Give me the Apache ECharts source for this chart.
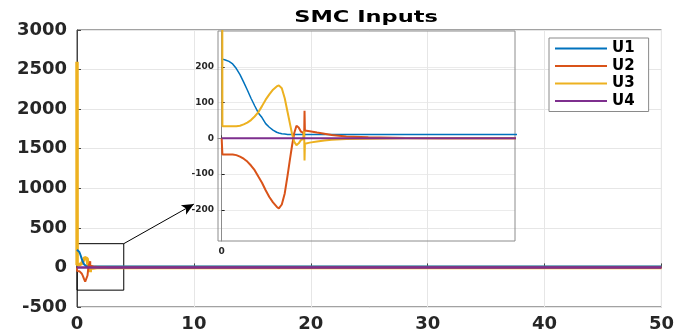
<!DOCTYPE html>
<html>
<head>
<meta charset="utf-8">
<script src="https://cdn.jsdelivr.net/npm/echarts@6/dist/echarts.min.js"></script>
<style>
  html, body { margin: 0; padding: 0; background: #fff; }
  #chart { width: 677px; height: 336px; }
</style>
</head>
<body>
<div id="chart"></div>
<script>
// time samples (s), last point is end of run
const tSamples = [0, 0.01, 0.05, 0.1, 0.15, 0.2, 0.25, 0.3, 0.35, 0.4,
  0.45, 0.5, 0.55, 0.6, 0.65, 0.7, 0.75, 0.78, 0.82, 0.86,
  0.9, 0.93, 0.96, 0.99, 1.02, 1.05, 1.08, 1.11, 1.125, 1.13,
  1.135, 1.16, 1.2, 1.3, 1.4, 1.5, 1.7, 2.0, 2.5, 3,
  4, 50];

const u1 = [222, 222, 219, 215, 208, 195, 178, 157, 135, 112,
  91, 71, 58, 41, 31, 23, 17, 15, 13, 12,
  11, 11, 11, 11, 11, 11, 11, 11, 11, 11,
  11, 11, 11, 11, 11, 11, 11, 11, 11, 11,
  11, 11];
const u2 = [0, -45, -45, -45, -45, -47, -51, -57, -65, -76,
  -89, -107, -124, -145, -164, -179, -191, -196, -185, -154,
  -102, -60, -20, 15, 35, 30, 19, 16, 5, 77,
  22, 21, 20, 16, 13, 9, 5, 3, 1, 0,
  0, 0];
const u3 = [2600, 34, 34, 34, 34, 34, 35, 39, 44, 51,
  61, 73, 90, 108, 123, 136, 145, 148, 140, 112,
  72, 42, 12, -10, -19, -14, -5, -2, 20, -62,
  -15, -14, -12, -9, -6, -4, -2, -1, 0, 0,
  0, 0];
const u4 = [0, 0, 0, 0, 0, 0, 0, 0, 0, 0,
  0, 0, 0, 0, 0, 0, 0, 0, 0, 0,
  0, 0, 0, 0, 0, 0, 0, 0, 0, 0,
  0, 0, 0, 0, 0, 0, 0, 0, 0, 0,
  0, 0];

const seriesNames = ['U1', 'U2', 'U3', 'U4'];
const seriesColors = ['#0072BD', '#D95319', '#EDB120', '#7E2F8E'];
const insetYLabels = [-200, -100, 0, 100, 200];
const insetXLabels = [0];

const chart = echarts.init(document.getElementById('chart'));

const pairs = (vals) => tSamples.map((t, i) => [t, vals[i]]);
const allValues = [u1, u2, u3, u4];

const labelFont = {
  fontFamily: 'DejaVu Sans',
  fontWeight: 'bold',
  color: '#262626',
};
const plain = (v) => String(v);

// main view: U3 at the back so its wide start spike doesn't tint the steady lines
const mainWidths = [2, 2, 3.5, 2.5];
const mainZ = [4, 5, 3, 6];
const mainSeries = allValues.map((vals, i) => ({
  name: seriesNames[i],
  type: 'line',
  xAxisIndex: 0,
  yAxisIndex: 0,
  data: pairs(vals),
  symbol: 'none',
  clip: false,
  color: seriesColors[i],
  lineStyle: { width: mainWidths[i], color: seriesColors[i] },
  z: mainZ[i],
}));

// zoom box and arrow pointing at the inset
mainSeries[3].markArea = {
  silent: true,
  itemStyle: { color: 'rgba(0,0,0,0)', borderColor: '#000', borderWidth: 1 },
  data: [[{ coord: [0, 300] }, { coord: [4, -287] }]],
};
mainSeries[3].markLine = {
  silent: true,
  symbol: ['none', 'arrow'],
  symbolSize: [8, 12],
  label: { show: false },
  lineStyle: { color: '#000', width: 1, type: 'solid' },
  data: [[{ coord: [4, 300] }, { coord: [10, 800] }]],
};

const insetSeries = allValues.map((vals, i) => ({
  name: seriesNames[i],
  type: 'line',
  xAxisIndex: 1,
  yAxisIndex: 1,
  data: pairs(vals),
  symbol: 'none',
  color: seriesColors[i],
  lineStyle: { width: i === 0 ? 1.5 : 2, color: seriesColors[i] },
  z: 10 + i,
}));

const option = {
  animation: false,
  backgroundColor: '#fff',
  graphic: [{
    type: 'text',
    x: 366,
    y: 11,
    scaleX: 1.5,
    z: 50,
    style: {
      text: 'SMC Inputs',
      fontFamily: 'DejaVu Sans',
      fontWeight: 'bold',
      fontSize: 15,
      fill: '#000',
      align: 'center',
      verticalAlign: 'top',
    },
  }],
  legend: {
    data: seriesNames,
    orient: 'vertical',
    left: 549,
    top: 38,
    icon: 'rect',
    itemWidth: 52,
    itemHeight: 2,
    itemGap: 2.5,
    padding: [3, 14, 3, 6],
    backgroundColor: '#fff',
    borderColor: '#8a8a8a',
    borderWidth: 1,
    textStyle: { ...labelFont, color: '#000', fontSize: 15 },
    z: 20,
  },
  grid: [
    {
      left: 77, right: 14, top: 30, bottom: 29,
      show: true, borderColor: '#444', borderWidth: 1,
      backgroundColor: 'rgba(0,0,0,0)',
    },
    {
      left: 218, top: 31, width: 297, height: 210,
      show: true, borderColor: '#8c8c8c', borderWidth: 1,
      backgroundColor: 'rgba(0,0,0,0)',
      z: 8,
    },
  ],
  xAxis: [
    {
      type: 'value', gridIndex: 0,
      min: 0, max: 50, interval: 10,
      axisLine: { show: true, lineStyle: { color: '#444' } },
      axisTick: { show: true, inside: true, length: 4, lineStyle: { color: '#444' } },
      axisLabel: { ...labelFont, fontSize: 18, margin: 8, formatter: plain },
      splitLine: { show: true, lineStyle: { color: '#e6e6e6' } },
    },
    {
      type: 'value', gridIndex: 1,
      min: -0.05, max: 4,
      axisLine: { show: true, lineStyle: { color: '#8c8c8c' } },
      axisTick: { show: true, inside: true, length: 3, customValues: insetXLabels, lineStyle: { color: '#444' } },
      axisLabel: { ...labelFont, fontSize: 9, margin: 6, customValues: insetXLabels, formatter: plain },
      splitLine: { show: false },
    },
  ],
  yAxis: [
    {
      type: 'value', gridIndex: 0,
      min: -500, max: 3000, interval: 500,
      axisLine: { show: true, lineStyle: { color: '#444' } },
      axisTick: { show: true, inside: true, length: 4, lineStyle: { color: '#444' } },
      axisLabel: { ...labelFont, fontSize: 18, margin: 10, formatter: plain },
      splitLine: { show: true, lineStyle: { color: '#e6e6e6' } },
    },
    {
      type: 'value', gridIndex: 1,
      min: -287, max: 300,
      axisLine: { show: true, lineStyle: { color: '#8c8c8c' } },
      axisTick: { show: true, inside: true, length: 3, customValues: insetYLabels, lineStyle: { color: '#222' } },
      axisLabel: { ...labelFont, fontSize: 9, margin: 4, customValues: insetYLabels, formatter: plain },
      splitLine: { show: true, lineStyle: { color: '#ebebeb' } },
    },
  ],
  series: [...mainSeries, ...insetSeries],
};

chart.setOption(option);
</script>
</body>
</html>
